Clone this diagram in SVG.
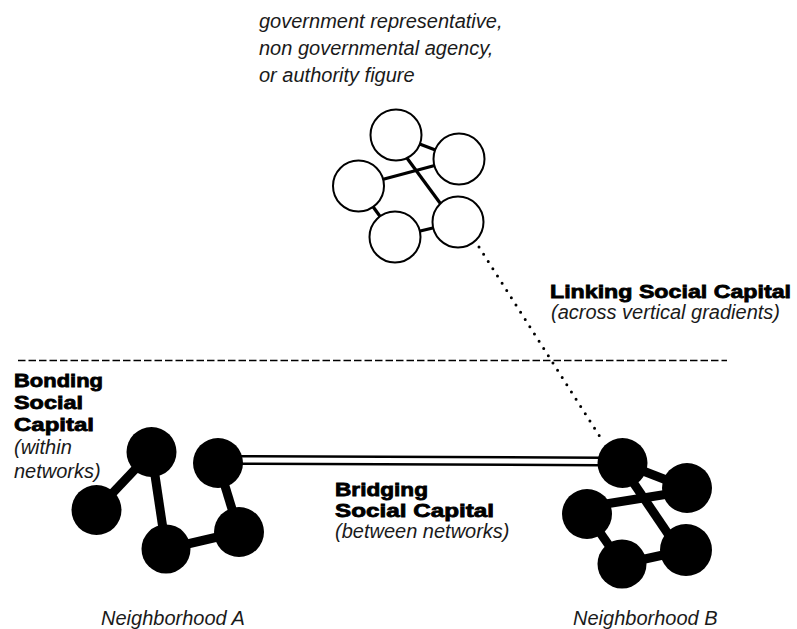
<svg xmlns="http://www.w3.org/2000/svg" width="797" height="629" viewBox="0 0 797 629">
<style>
  .it { font-family: "Liberation Sans", Arial, sans-serif; font-style: italic; font-size: 20px; fill: #1a1a1a; }
  .bd { font-family: "Liberation Sans", Arial, sans-serif; font-weight: bold; font-size: 19px; fill: #000; stroke: #000; stroke-width: 0.8; }
  .wnode { fill: #fff; stroke: #000; stroke-width: 2; }
  .bnode { fill: #000; }
  .wlink { stroke: #000; stroke-width: 3.2; fill: none; }
  .blink { stroke: #000; stroke-width: 9; fill: none; }
</style>
<rect width="797" height="629" fill="#fff"/>

<!-- separator -->
<line x1="18" y1="360.5" x2="727" y2="360.5" stroke="#000" stroke-width="1.5" stroke-dasharray="7.5 3"/>

<g id="connectors">
  <!-- white cluster links -->
  <line class="wlink" x1="396" y1="135" x2="459" y2="159"/>
  <line class="wlink" x1="358" y1="186" x2="459" y2="159"/>
  <line class="wlink" x1="390" y1="135" x2="454" y2="222"/>
  <line class="wlink" x1="358" y1="186" x2="395" y2="237"/>
  <line class="wlink" x1="395" y1="237" x2="458" y2="222"/>
  <!-- neighborhood A links -->
  <line class="blink" x1="151.5" y1="452" x2="96.5" y2="510"/>
  <line class="blink" x1="151.5" y1="452" x2="166" y2="549"/>
  <line class="blink" x1="166" y1="549" x2="239" y2="532"/>
  <line class="blink" x1="218" y1="463" x2="239" y2="532"/>
  <!-- neighborhood B links -->
  <line class="blink" x1="622.5" y1="463" x2="687" y2="488" stroke-width="8"/>
  <line class="blink" x1="587" y1="507" x2="687" y2="491" stroke-width="8"/>
  <line class="blink" x1="620" y1="463" x2="679" y2="550" stroke-width="8"/>
  <line class="blink" x1="587" y1="514" x2="622" y2="564" stroke-width="8"/>
  <line class="blink" x1="622" y1="564" x2="686" y2="550" stroke-width="8"/>
  <!-- bridging double line -->
  <line x1="238" y1="460" x2="602" y2="461.5" stroke="#000" stroke-width="10"/>
  <line x1="238" y1="460" x2="602" y2="461.5" stroke="#fff" stroke-width="5"/>
  <!-- linking dotted line -->
  <line x1="479" y1="247" x2="602" y2="440" stroke="#000" stroke-width="3" stroke-linecap="round" stroke-dasharray="0 8.6"/>
</g>

<g id="authority">
  <circle class="wnode" cx="396" cy="135" r="25.5"/>
  <circle class="wnode" cx="459" cy="159" r="25.5"/>
  <circle class="wnode" cx="358.5" cy="186" r="25.5"/>
  <circle class="wnode" cx="395" cy="237" r="25.5"/>
  <circle class="wnode" cx="458" cy="222" r="25.5"/>
</g>

<g id="neighborhoodA">
  <circle class="bnode" cx="151.5" cy="452" r="25"/>
  <circle class="bnode" cx="96.5" cy="510" r="25"/>
  <circle class="bnode" cx="166" cy="549" r="24.5"/>
  <circle class="bnode" cx="239" cy="532" r="25"/>
  <circle class="bnode" cx="218" cy="463" r="25"/>
</g>

<g id="neighborhoodB">
  <circle class="bnode" cx="622.5" cy="463" r="25"/>
  <circle class="bnode" cx="687" cy="488" r="25"/>
  <circle class="bnode" cx="587" cy="514" r="25"/>
  <circle class="bnode" cx="622" cy="564" r="24.5"/>
  <circle class="bnode" cx="686" cy="550" r="26"/>
</g>

<g id="authority-label">
  <text class="it" x="259" y="28">government representative,</text>
  <text class="it" x="259" y="55">non governmental agency,</text>
  <text class="it" x="259" y="82">or authority figure</text>
</g>

<g id="linking-label">
  <text class="bd" x="550" y="298" textLength="241" lengthAdjust="spacingAndGlyphs">Linking Social Capital</text>
  <text class="it" x="551" y="319">(across vertical gradients)</text>
</g>

<g id="bonding-label">
  <text class="bd" x="14" y="387" textLength="89" lengthAdjust="spacingAndGlyphs">Bonding</text>
  <text class="bd" x="14" y="409" textLength="69" lengthAdjust="spacingAndGlyphs">Social</text>
  <text class="bd" x="14" y="431" textLength="80" lengthAdjust="spacingAndGlyphs">Capital</text>
  <text class="it" x="14" y="454">(within</text>
  <text class="it" x="14" y="478">networks)</text>
</g>

<g id="bridging-label">
  <text class="bd" x="335" y="496" textLength="93" lengthAdjust="spacingAndGlyphs">Bridging</text>
  <text class="bd" x="335" y="517" textLength="159" lengthAdjust="spacingAndGlyphs">Social Capital</text>
  <text class="it" x="335" y="538">(between networks)</text>
</g>

<g id="neighborhood-labels">
  <text class="it" x="101" y="625">Neighborhood A</text>
  <text class="it" x="573" y="625">Neighborhood B</text>
</g>
</svg>
